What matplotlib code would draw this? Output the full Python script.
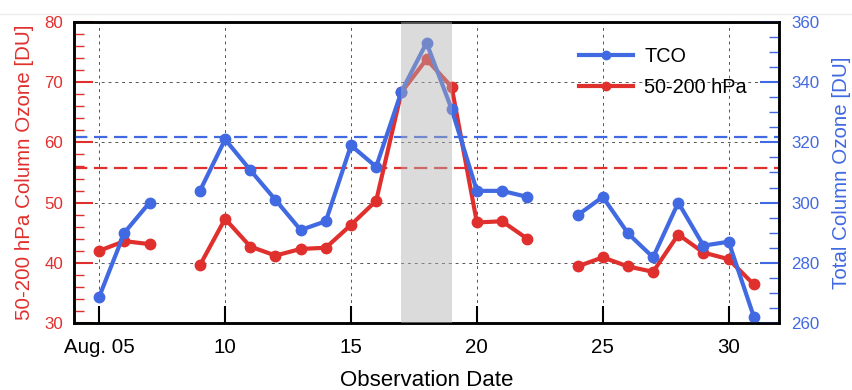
import numpy as np
import matplotlib
matplotlib.use("Agg")
import matplotlib.pyplot as plt
from matplotlib.ticker import MultipleLocator
from matplotlib.lines import Line2D

plt.rcParams['font.family'] = ['Liberation Sans', 'DejaVu Sans']

days = np.arange(5, 32)
layer_ozone = [42.0, 43.6, 43.1, np.nan, 39.6, 47.3, 42.7, 41.2, 42.3, 42.5,
               46.3, 50.3, 68.3, 73.8, 69.2, 46.7, 46.9, 44.0, np.nan, 39.4,
               40.9, 39.4, 38.5, 44.7, 41.7, 40.6, 36.4]
tco = [268.7, 290.0, 300.0, np.nan, 303.9, 321.0, 310.8, 300.9, 290.9, 293.8,
       319.0, 311.9, 336.8, 353.1, 331.0, 303.9, 303.9, 301.9, np.nan, 295.8,
       301.9, 289.8, 281.8, 300.0, 285.7, 287.0, 262.1]
layer_mean = 55.8
tco_mean = 321.7
event_start, event_end = 17, 19
xticks = [5, 10, 15, 20, 25, 30]
xticklabels = ['Aug. 05', '10', '15', '20', '25', '30']

RED = '#E0302E'
BLUE = '#4169E1'

fig = plt.figure(figsize=(8.52, 3.9), dpi=100)
fig.add_artist(Line2D([0.0, 1.0], [1 - 14 / 390, 1 - 14 / 390], transform=fig.transFigure,
                      color='#ececec', linewidth=1.0))
ax = fig.add_axes([0.0869, 0.1718, 0.8274, 0.7718])
ax2 = ax.twinx()

ax.set_xlim(4, 32)
ax.set_ylim(30, 80)
ax2.set_ylim(260, 360)

ax.grid(True, which='major', color='#555555', linestyle=(0, (3, 4)), linewidth=0.7)

ax.axhline(layer_mean, color=RED, linestyle=(0, (6, 3)), linewidth=1.6)
ax2.axhline(tco_mean, color=BLUE, linestyle=(0, (6, 3)), linewidth=1.6)

l1, = ax.plot(days, layer_ozone, '-o', color=RED, linewidth=3, markersize=7.5, label='50-200 hPa')
l2, = ax2.plot(days, tco, '-o', color=BLUE, linewidth=3, markersize=7.5, label='TCO')

ax2.axvspan(event_start, event_end, color='#b0b0b0', alpha=0.45, linewidth=0, zorder=10)

ax.set_xticks(xticks)
ax.set_xticklabels(xticklabels)
ax.yaxis.set_major_locator(MultipleLocator(10))
ax.yaxis.set_minor_locator(MultipleLocator(2))
ax2.yaxis.set_major_locator(MultipleLocator(20))
ax2.yaxis.set_minor_locator(MultipleLocator(5))

ax.tick_params(axis='x', direction='in', length=12, width=1.5, colors='black', labelsize=14.8, pad=11)
ax.tick_params(axis='y', which='major', direction='in', length=14, width=1.5, colors=RED, labelsize=12.2, pad=8)
ax.tick_params(axis='y', which='minor', direction='in', length=7, width=1.0, colors=RED)
ax2.tick_params(axis='y', which='major', direction='in', length=14, width=1.5, colors=BLUE, labelsize=12.2, pad=9)
ax2.tick_params(axis='y', which='minor', direction='in', length=7, width=1.0, colors=BLUE)
ax2.tick_params(axis='x', which='both', bottom=False, top=False)

for a in (ax, ax2):
    for s in a.spines.values():
        s.set_linewidth(1.8)
        s.set_color('black')

ax.set_xlabel('Observation Date', fontsize=16, labelpad=9)
ax.set_ylabel('50-200 hPa Column Ozone [DU]', color=RED, fontsize=14.8, labelpad=7)
ax2.set_ylabel('Total Column Ozone [DU]', color=BLUE, fontsize=14.8, labelpad=9)

leg = ax2.legend(handles=[l2, l1], loc='upper right', frameon=False, fontsize=14.3,
                 handlelength=2.7, handletextpad=0.6, markerscale=0.8, borderaxespad=0.85,
                 bbox_to_anchor=(0.99, 1.0), labelspacing=0.6)
leg.set_zorder(20)

fig.savefig('out.png', dpi=100)
